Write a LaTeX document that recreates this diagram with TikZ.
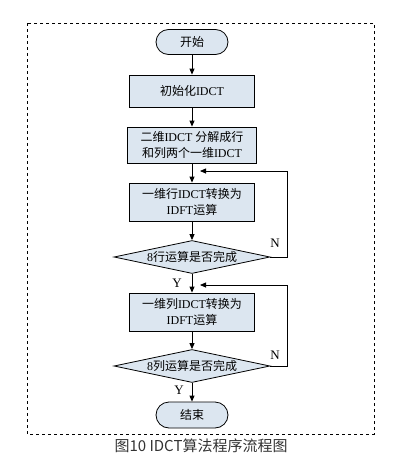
\documentclass[tikz,border=0pt]{standalone}
\usepackage{fontspec}
\setmainfont{Liberation Serif}
\newfontfamily\cjk{Noto Sans CJK SC}
\usetikzlibrary{shapes.geometric,arrows.meta}
\definecolor{boxfill}{HTML}{DCE6F0}

\begin{document}
\begin{tikzpicture}[x=1pt,y=-1pt,line width=0.8pt,
  box/.style={draw,fill=boxfill,minimum width=125pt,minimum height=33pt,align=center,inner sep=1pt,font=\fontsize{12}{16}\selectfont},
  term/.style={draw,fill=boxfill,rounded corners=12.5pt,minimum width=72pt,minimum height=25pt,font=\fontsize{12}{13}\selectfont},
  decide/.style={draw,fill=boxfill,diamond,aspect=5,inner sep=0pt,minimum width=156pt,minimum height=33pt,font=\fontsize{12}{13}\selectfont},
  flow/.style={-{Triangle[length=6pt,width=5pt]}},
  yn/.style={font=\fontsize{13}{13}\selectfont}]
   \useasboundingbox (0,0) rectangle (413,464);
   \draw[dashed,line width=0.6pt] (27,23) rectangle (374,434);
   \node[term] (start) at (192,42) {\cjk 开始};
   \node[box,minimum height=32pt] (init) at (192,91) {{\cjk 初始化}IDCT};
   \node[box,minimum width=129pt,minimum height=36pt] (split) at (192,145) {{\cjk 二维}IDCT {\cjk 分解成行}\\{\cjk 和列两个一维}IDCT};
   \node[box,minimum height=38pt] (row) at (192,202) {{\cjk 一维行}IDCT{\cjk 转换为}\\IDFT{\cjk 运算}};
   \node[decide] (rowok) at (192,257) {8{\cjk 行运算是否完成}};
   \node[box,minimum height=38pt] (col) at (192,312) {{\cjk 一维列}IDCT{\cjk 转换为}\\IDFT{\cjk 运算}};
   \node[decide] (colok) at (192,366) {8{\cjk 列运算是否完成}};
   \node[term,minimum height=26pt,rounded corners=13pt] (stop) at (192,415) {\cjk 结束};
   \coordinate (rowin) at (200,171);
   \coordinate (colin) at (200,285);
   \draw[flow] (start) -- (init);
   \draw[flow] (init) -- (split);
   \draw[flow] (split) -- (row);
   \draw[flow] (row) -- (rowok);
   \draw[flow] (rowok) -- (col);
   \draw[flow] (col) -- (colok);
   \draw[flow] (colok) -- (stop);
   \draw[flow] (rowok.east) -- ++(17,0) |- (rowin);
   \draw[flow] (colok.east) -- ++(17,0) |- (colin);
   \node[yn] (rowno) at (275,243) {N};
   \node[yn] (rowyes) at (177,283) {Y};
   \node[yn] (colno) at (275,355) {N};
   \node[yn] (colyes) at (179,390) {Y};
   \node[font=\cjk\fontsize{15}{15}\selectfont,text=black!80] (title) at (201,446) {图10 IDCT算法程序流程图};
\end{tikzpicture}
\end{document}
